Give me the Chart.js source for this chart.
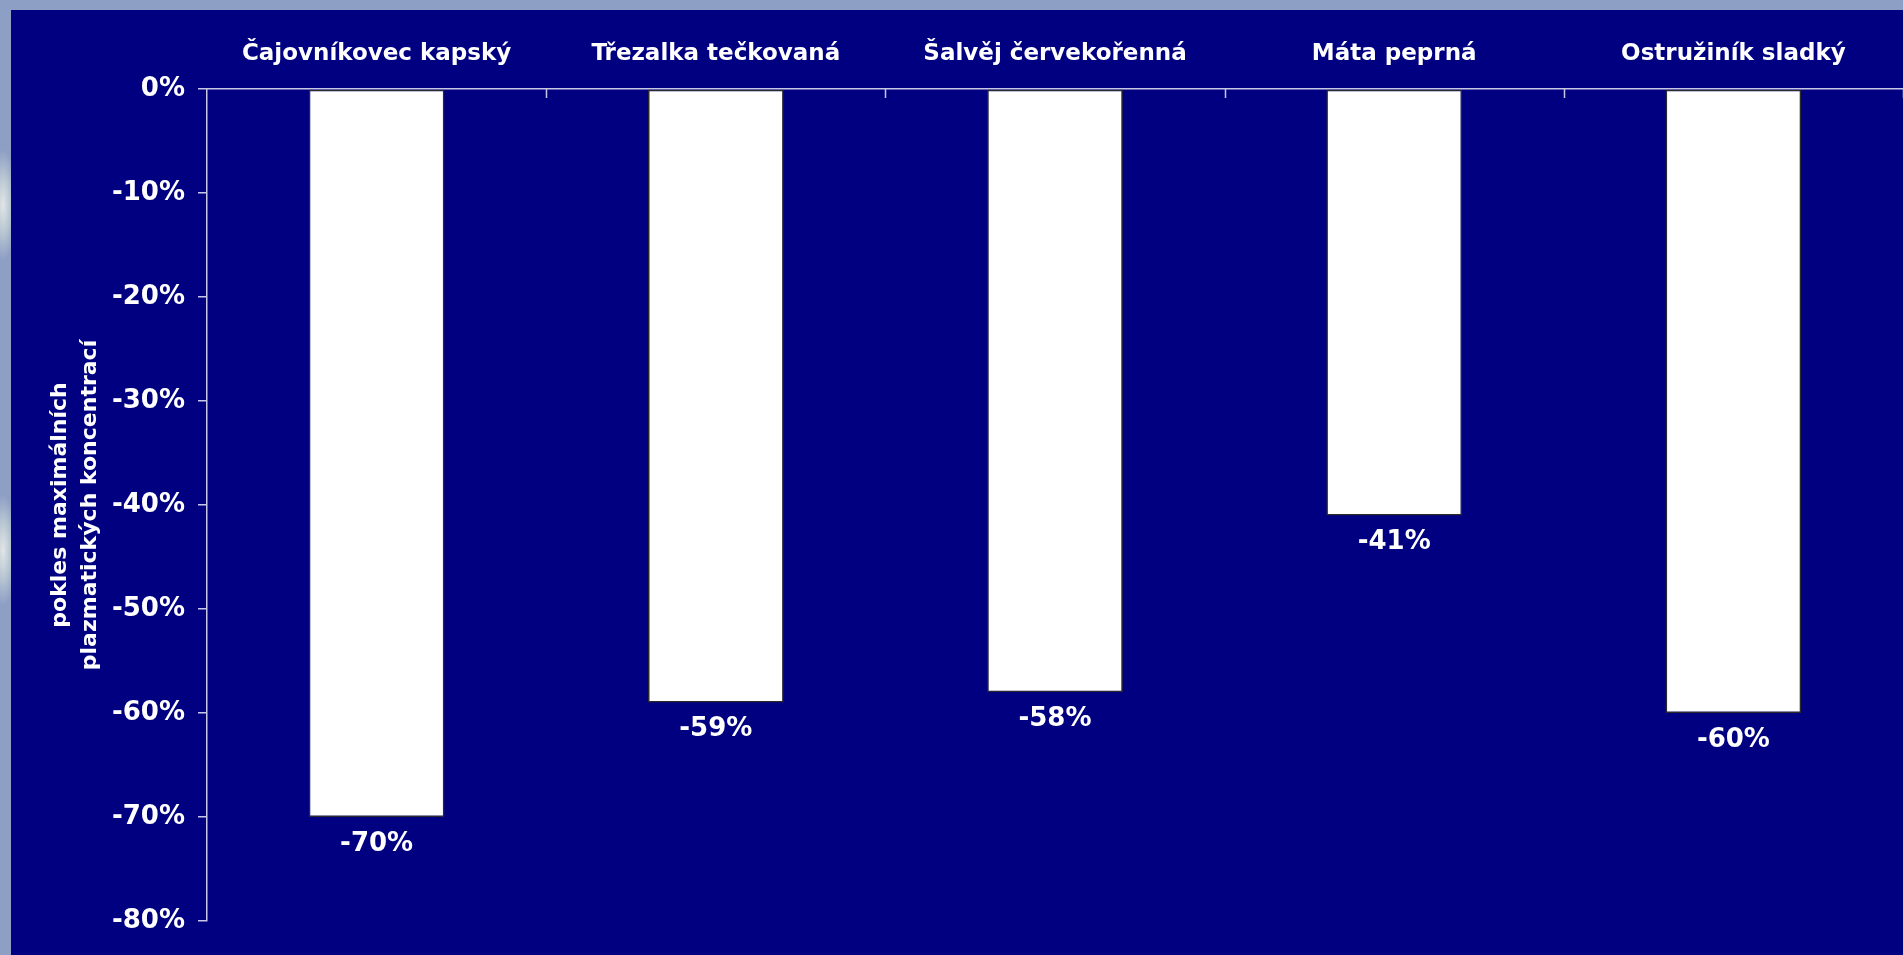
<!DOCTYPE html>
<html>
<head>
<meta charset="utf-8">
<script src="https://cdn.jsdelivr.net/npm/chart.js@4/dist/chart.umd.min.js"></script>
<style>
  html, body { margin: 0; padding: 0; }
  body {
    width: 1903px; height: 955px; overflow: hidden;
    background:
      radial-gradient(ellipse 14px 55px at 3px 205px, #e2e6e6 0%, #b9c7d3 50%, rgba(142,159,197,0) 100%),
      radial-gradient(ellipse 14px 55px at 3px 550px, #e2e6e6 0%, #b9c7d3 50%, rgba(142,159,197,0) 100%),
      #8e9fc5;
  }
  #wrap {
    position: absolute; left: 11px; top: 10px;
    width: 1892px; height: 945px;
    background: #000080;
  }
</style>
</head>
<body>
<div id="wrap"><canvas id="myChart" width="1892" height="945"></canvas></div>
<script>
const categories = ["Čajovníkovec kapský", "Třezalka tečkovaná", "Šalvěj červekořenná", "Máta peprná", "Ostružiník sladký"];
const decline = [-70, -59, -58, -41, -60];
const yTitle = ["pokles maximálních", "plazmatických koncentrací"];

const FONT = "'DejaVu Sans', Verdana, sans-serif";

// value labels under the bar ends
const valueLabels = {
  id: "valueLabels",
  afterDatasetsDraw(chart) {
    const ctx = chart.ctx;
    const meta = chart.getDatasetMeta(0);
    ctx.save();
    ctx.fillStyle = "#ffffff";
    ctx.font = "bold 26px " + FONT;
    ctx.textAlign = "center";
    ctx.textBaseline = "middle";
    meta.data.forEach((bar, i) => {
      ctx.fillText(decline[i] + "%", bar.x, bar.y + 27);
    });
    ctx.restore();
  },
};

// small category ticks pointing down from the top axis
const innerTicks = {
  id: "innerTicks",
  afterDraw(chart) {
    const ctx = chart.ctx;
    const x = chart.scales.x;
    const top = chart.chartArea.top;
    ctx.save();
    ctx.strokeStyle = "#c8c8e4";
    ctx.lineWidth = 1.5;
    for (let i = 1; i <= categories.length; i++) {
      const px = Math.round(x.getPixelForValue(i - 0.5)) + 0.5;
      ctx.beginPath();
      ctx.moveTo(px, top);
      ctx.lineTo(px, top + 9);
      ctx.stroke();
    }
    ctx.restore();
  },
};

const myChart = document.getElementById("myChart").getContext("2d");

new Chart(myChart, {
  type: "bar",
  data: {
    labels: categories,
    datasets: [
      {
        data: decline,
        backgroundColor: "#ffffff",
        borderColor: "#2a2a2a",
        borderWidth: 1.5,
        borderSkipped: false,
        barPercentage: 0.4,
        categoryPercentage: 1,
      },
    ],
  },
  options: {
    responsive: false,
    animation: false,
    layout: { padding: { top: 0, right: 0, bottom: 34, left: 0 } },
    plugins: {
      legend: { display: false },
      tooltip: { enabled: false },
    },
    scales: {
      x: {
        position: "top",
        grid: { display: true, drawOnChartArea: false, drawTicks: false, offset: true },
        border: { display: true, color: "#c8c8e4", width: 1.5 },
        ticks: {
          color: "#ffffff",
          font: { family: FONT, size: 23, weight: "bold" },
          padding: 21,
          maxRotation: 0,
        },
        afterFit(scale) {
          scale.height = 79;
        },
      },
      y: {
        min: -80,
        max: 0,
        grid: { drawOnChartArea: false, drawTicks: true, tickLength: 9, color: "#c8c8e4", lineWidth: 1.5 },
        border: { display: true, color: "#c8c8e4", width: 1.5 },
        ticks: {
          stepSize: 10,
          color: "#ffffff",
          padding: 13,
          font: { family: FONT, size: 26, weight: "bold" },
          callback: (v) => v + "%",
        },
        title: {
          display: true,
          text: yTitle,
          color: "#ffffff",
          font: { family: FONT, size: 22, weight: "bold", lineHeight: 1.36 },
          padding: { top: 34, bottom: 0 },
        },
        afterFit(scale) {
          scale.width = 196;
        },
      },
    },
  },
  plugins: [valueLabels, innerTicks],
});
</script>
</body>
</html>
